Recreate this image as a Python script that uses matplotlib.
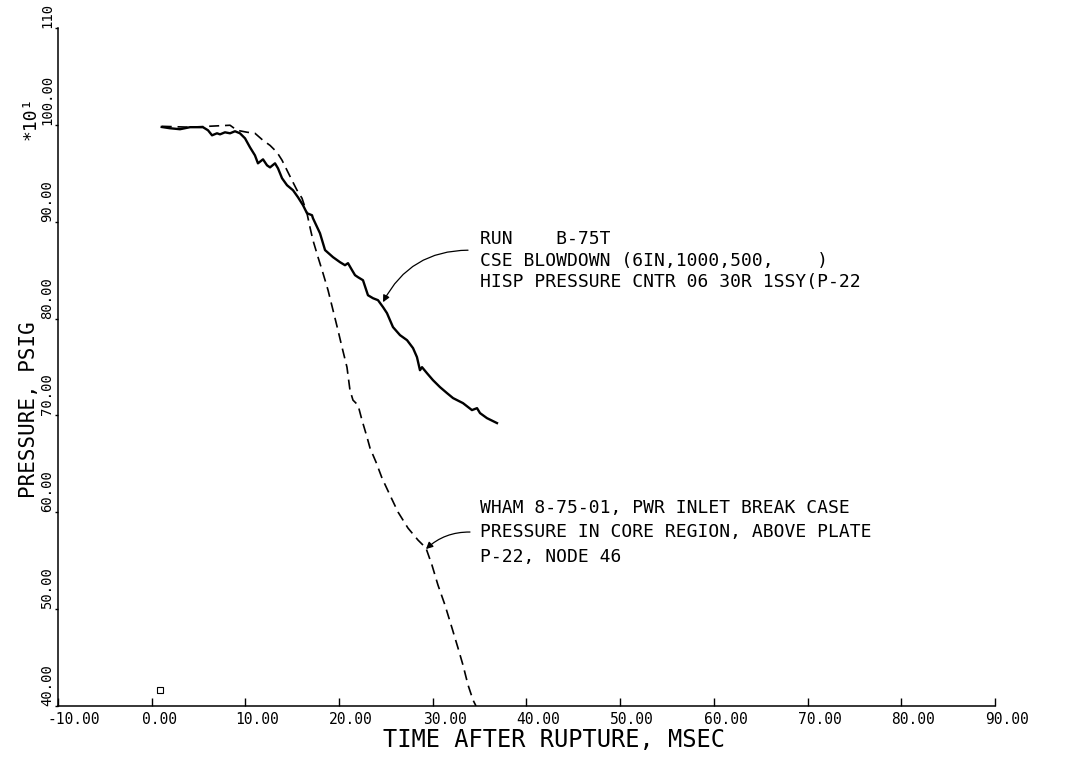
import matplotlib
matplotlib.use("Agg")
import matplotlib.pyplot as plt
from matplotlib.transforms import ScaledTranslation

# measured test data (solid line), time in msec, pressure in psig*10
test_time = [1.07, 1.95, 3.02, 4.09, 5.47, 6.01, 6.44, 6.97, 7.29, 7.82, 8.36, 8.89,
             9.42, 9.96, 10.49, 11.02, 11.34, 11.88, 12.31, 12.63, 13.16, 13.48, 13.91,
             14.44, 15.08, 15.61, 16.15, 16.57, 17.11, 17.21, 17.96, 18.50, 19.35, 20.10,
             20.63, 20.95, 21.38, 21.70, 22.02, 22.55, 23.08, 23.62, 24.15, 24.69, 25.11,
             25.75, 26.50, 27.25, 27.89, 28.31, 28.63, 28.85, 29.38, 30.02, 30.77, 31.52,
             32.16, 33.22, 34.18, 34.72, 35.04, 35.78, 36.85]
test_press = [99.78, 99.65, 99.55, 99.76, 99.76, 99.44, 98.92, 99.13, 99.02, 99.23, 99.13,
              99.34, 99.13, 98.61, 97.68, 96.85, 96.03, 96.44, 95.82, 95.61, 96.03, 95.51,
              94.49, 93.77, 93.25, 92.53, 91.70, 90.88, 90.67, 90.36, 88.81, 87.07, 86.34,
              85.82, 85.51, 85.72, 85.00, 84.48, 84.27, 83.96, 82.41, 82.10, 81.90, 81.18,
              80.56, 79.12, 78.29, 77.77, 76.95, 76.02, 74.67, 74.98, 74.36, 73.64, 72.92,
              72.30, 71.79, 71.27, 70.55, 70.75, 70.24, 69.72, 69.21]

# WHAM calculation (dashed line)
wham_time = [1.07, 4.09, 8.36, 9.10, 10.17, 11.02, 11.88, 12.63, 13.37, 13.91, 14.44,
             14.97, 15.51, 16.04, 16.36, 16.57, 16.89, 17.21, 17.75, 18.28, 18.82, 19.35,
             19.88, 20.31, 20.84, 21.16, 21.48, 22.02, 22.44, 22.98, 23.30, 23.94, 24.58,
             25.43, 26.29, 27.35, 28.42, 29.27, 29.91, 30.55, 31.30, 32.05, 32.69, 33.22,
             33.76, 34.29, 34.61]
wham_press = [99.85, 99.76, 99.96, 99.44, 99.24, 99.13, 98.40, 97.88, 97.17, 96.35, 95.31,
              94.28, 93.25, 92.43, 91.50, 90.88, 89.43, 88.09, 86.34, 84.69, 82.93, 80.87,
              78.80, 77.05, 74.98, 72.61, 71.58, 71.06, 69.52, 67.76, 66.63, 65.18, 63.53,
              61.77, 60.02, 58.37, 57.13, 56.31, 54.55, 52.49, 50.42, 48.05, 45.99, 44.23,
              42.17, 40.62, 40.00]

origin_mark = [0.89, 41.65]

x_ticks = [-10, 0, 10, 20, 30, 40, 50, 60, 70, 80, 90]
x_labels = ["-10.00", "0.00", "10.00", "20.00", "30.00", "40.00", "50.00", "60.00",
            "70.00", "80.00", "90.00"]
y_ticks = [40, 50, 60, 70, 80, 90, 100, 110]
y_labels = ["40.00", "50.00", "60.00", "70.00", "80.00", "90.00", "100.00", "110"]

test_text = ["RUN    B-75T",
             "CSE BLOWDOWN (6IN,1000,500,    )",
             "HISP PRESSURE CNTR 06 30R 1SSY(P-22"]
wham_text = ["WHAM 8-75-01, PWR INLET BREAK CASE",
             "PRESSURE IN CORE REGION, ABOVE PLATE",
             "P-22, NODE 46"]


def main():
    plt.rcParams['font.family'] = ['DejaVu Sans Mono', 'DejaVu Sans']
    fig = plt.figure(figsize=(10.78, 7.57), dpi=100)
    ax = fig.add_axes([0.0538, 0.0674, 0.8692, 0.8956])

    ax.plot(test_time, test_press, color="black", lw=1.7)
    ax.plot(wham_time, wham_press, color="black", lw=1.2, dashes=(6, 3.5))
    ax.plot(origin_mark[0], origin_mark[1], marker="s", ms=5, mfc="none", mec="black", mew=0.8)

    ax.set_xlim(-10, 90)
    ax.set_ylim(40, 110)
    ax.spines['top'].set_visible(False)
    ax.spines['right'].set_visible(False)
    ax.spines['left'].set_linewidth(1.1)
    ax.spines['bottom'].set_linewidth(1.1)

    ax.set_xticks(x_ticks)
    ax.set_xticklabels(x_labels, fontsize=10.5)
    ax.tick_params(axis='x', direction='in', length=6, width=1, pad=4)
    for lab in ax.get_xticklabels():
        lab.set_horizontalalignment('left')
        lab.set_transform(lab.get_transform() + ScaledTranslation(-0.1, 0, fig.dpi_scale_trans))

    ax.set_yticks(y_ticks)
    ax.set_yticklabels(y_labels, fontsize=10, rotation=90, va='bottom')
    ax.tick_params(axis='y', direction='out', length=2.5, width=1, pad=0.5)

    ax.set_xlabel("TIME AFTER RUPTURE, MSEC", fontsize=17)
    ax.xaxis.set_label_coords(0.529, -0.032)
    fig.text(29 / 1078, 1 - 410 / 757, "PRESSURE, PSIG", rotation=90, fontsize=15,
             ha='center', va='center')
    fig.text(31 / 1078, 1 - 118 / 757, "*10\u00b9", rotation=90, fontsize=13,
             ha='center', va='center')

    # labels for both curves
    for i, s in enumerate(test_text):
        ax.text(35.04, 88.19 - i * 2.2, s, fontsize=13, ha='left', va='center')
    for i, s in enumerate(wham_text):
        ax.text(35.04, 60.43 - i * 2.5, s, fontsize=13, ha='left', va='center')

    ax.annotate("", xy=(24.69, 81.69), xytext=(33.76, 87.06),
                arrowprops=dict(arrowstyle='-|>', color='black', lw=0.9,
                                mutation_scale=10, connectionstyle='arc3,rad=0.3',
                                shrinkA=0, shrinkB=0))
    ax.annotate("", xy=(29.27, 56.20), xytext=(33.97, 57.96),
                arrowprops=dict(arrowstyle='-|>', color='black', lw=0.9,
                                mutation_scale=10, connectionstyle='arc3,rad=0.2',
                                shrinkA=0, shrinkB=0))

    plt.savefig("out.png", dpi=100)


if __name__ == '__main__':
    main()
